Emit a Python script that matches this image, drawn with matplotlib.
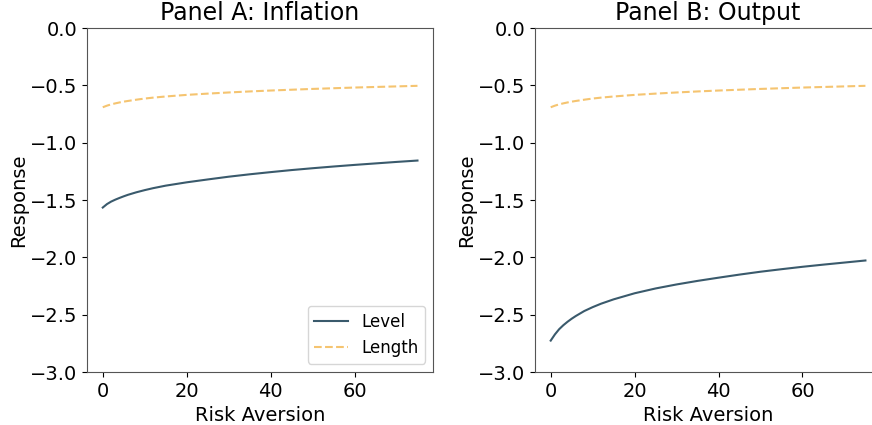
import numpy as np
import matplotlib
matplotlib.use("Agg")
import matplotlib.pyplot as plt

# risk aversion grid and responses for the two shocks
risk_aversion = [0, 1, 2, 3, 4, 5, 6, 8, 10, 12, 15, 20, 25, 30, 35, 40, 45, 50, 55, 60, 65, 70, 75]

inflation_level = [-1.565, -1.535, -1.513, -1.496, -1.481, -1.467, -1.454, -1.432, -1.413, -1.396,
                   -1.374, -1.345, -1.320, -1.296, -1.275, -1.256, -1.238, -1.222, -1.207, -1.193,
                   -1.180, -1.167, -1.155]
inflation_length = [-0.690, -0.676, -0.665, -0.656, -0.648, -0.641, -0.635, -0.624, -0.614, -0.606,
                    -0.596, -0.582, -0.571, -0.561, -0.552, -0.544, -0.537, -0.530, -0.524, -0.518,
                    -0.513, -0.508, -0.503]

output_level = [-2.726, -2.672, -2.627, -2.592, -2.562, -2.535, -2.511, -2.468, -2.434, -2.404,
                -2.366, -2.313, -2.271, -2.236, -2.205, -2.177, -2.150, -2.125, -2.103, -2.082,
                -2.063, -2.045, -2.027]
output_length = inflation_length

panels = [
    ("Panel A: Inflation", inflation_level, inflation_length),
    ("Panel B: Output", output_level, output_length),
]

level_color = "#3a5a6c"
length_color = "#f5c470"

fig = plt.figure(figsize=(8.72, 4.25), dpi=100)
positions = [[0.0998, 0.1247, 0.397, 0.809], [0.6135, 0.1247, 0.397, 0.809]]

for i, (title, level, length) in enumerate(panels):
    ax = fig.add_axes(positions[i])
    ax.plot(risk_aversion, level, color=level_color, lw=1.5, label="Level")
    ax.plot(risk_aversion, length, color=length_color, lw=1.5, ls="--", label="Length")
    ax.set_ylim(-3.0, 0.0)
    ax.set_xticks([0, 20, 40, 60])
    ax.set_yticks(np.arange(-3.0, 0.01, 0.5))
    ax.set_title(title, fontsize=17)
    ax.set_xlabel("Risk Aversion", fontsize=14)
    ax.set_ylabel("Response", fontsize=14, labelpad=1)
    ax.tick_params(labelsize=14)
    for sp in ax.spines.values():
        sp.set_color("#555555")
    if i == 0:
        ax.legend(loc="lower right", fontsize=12)

fig.savefig("out.png", dpi=100)
